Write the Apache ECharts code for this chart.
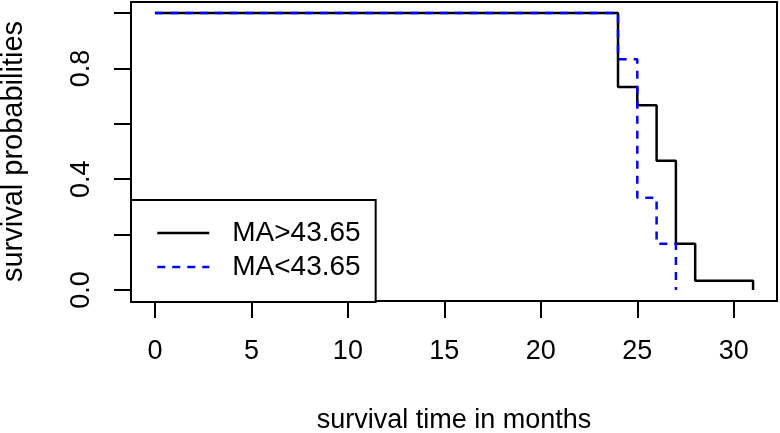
<!DOCTYPE html>
<html>
<head>
<meta charset="utf-8">
<script src="https://cdn.jsdelivr.net/npm/echarts@6/dist/echarts.min.js"></script>
<style>
  html, body { margin: 0; padding: 0; background: #fff; }
  #chart_container { width: 780px; height: 433px; }
</style>
</head>
<body>
<div id="chart_container"></div>
<script>
"use strict";

// survival curve steps (time in months, survival probability after the drop)
const timesHigh = [0, 24, 25, 26, 27, 28, 31];
const survHigh  = [1, 0.733, 0.667, 0.467, 0.167, 0.033, 0];
const timesLow  = [0, 24, 25, 26, 27];
const survLow   = [1, 0.833, 0.333, 0.167, 0];

const seriesNames = ['MA>43.65', 'MA<43.65'];

const xTicks  = [0, 5, 10, 15, 20, 25, 30];
const yTicks  = [0, 0.2, 0.4, 0.6, 0.8, 1.0];
const yLabels = [0, 0.4, 0.8];

const FONT = 'Liberation Sans, Arial, sans-serif';

let pairs = (xs, ys) => xs.map((x, i) => [x, ys[i]]);

let myChart;

let pageLoaded = () => {
    let chartDom = document.getElementById('chart_container');
    myChart = echarts.init(chartDom, null, { renderer: 'canvas' });

    let optEchart = {
        animation: false,
        backgroundColor: '#fff',
        grid: {
            left: 131, right: 3, top: 2, bottom: 132,
            outerBoundsMode: 'none',
            containLabel: false,
            show: true,
            borderColor: '#000',
            borderWidth: 2,
            backgroundColor: 'transparent'
        },
        legend: {
            orient: 'vertical',
            left: 131,
            top: 200,
            padding: [19, 15, 21, 25],
            itemGap: 6,
            itemWidth: 52,
            itemHeight: 14,
            borderColor: '#000',
            borderWidth: 2,
            backgroundColor: '#fff',
            itemStyle: { color: 'transparent', borderWidth: 0, opacity: 0 },
            lineStyle: { width: 2.5 },
            textStyle: { fontFamily: FONT, fontSize: 28, color: '#000', padding: [0, 0, 0, 18] },
            data: seriesNames
        },
        xAxis: {
            type: 'value',
            min: -1.24,
            max: 32.24,
            name: 'survival time in months',
            nameLocation: 'middle',
            nameGap: 106,
            nameTextStyle: { fontFamily: FONT, fontSize: 27, color: '#000' },
            axisLine: { show: false, onZero: false },
            splitLine: { show: false },
            axisTick: {
                show: true,
                length: 17,
                customValues: xTicks,
                lineStyle: { color: '#000', width: 2 }
            },
            axisLabel: {
                customValues: xTicks,
                margin: 37,
                fontFamily: FONT,
                fontSize: 27,
                color: '#000'
            }
        },
        yAxis: {
            type: 'value',
            min: -0.04,
            max: 1.04,
            name: 'survival probabilities',
            nameLocation: 'middle',
            nameGap: 103,
            nameTextStyle: { fontFamily: FONT, fontSize: 29, color: '#000' },
            axisLine: { show: false, onZero: false },
            splitLine: { show: false },
            axisTick: {
                show: true,
                length: 17,
                customValues: yTicks,
                lineStyle: { color: '#000', width: 2 }
            },
            axisLabel: {
                customValues: yLabels,
                rotate: 90,
                margin: 36,
                fontFamily: FONT,
                fontSize: 27,
                color: '#000',
                formatter: v => v.toFixed(1)
            }
        },
        series: [
            {
                name: seriesNames[0],
                type: 'line',
                step: 'end',
                symbol: 'none',
                data: pairs(timesHigh, survHigh),
                lineStyle: { color: '#000', width: 2.5 },
                itemStyle: { color: '#000' }
            },
            {
                name: seriesNames[1],
                type: 'line',
                step: 'end',
                symbol: 'none',
                data: pairs(timesLow, survLow),
                lineStyle: { color: '#0000ff', width: 2.5, type: [8, 7] },
                itemStyle: { color: '#0000ff' }
            }
        ]
    };

    myChart.setOption(optEchart);
    console.log(`echart config and creation complete`);
};

window.addEventListener('load', pageLoaded, false);
</script>
</body>
</html>
